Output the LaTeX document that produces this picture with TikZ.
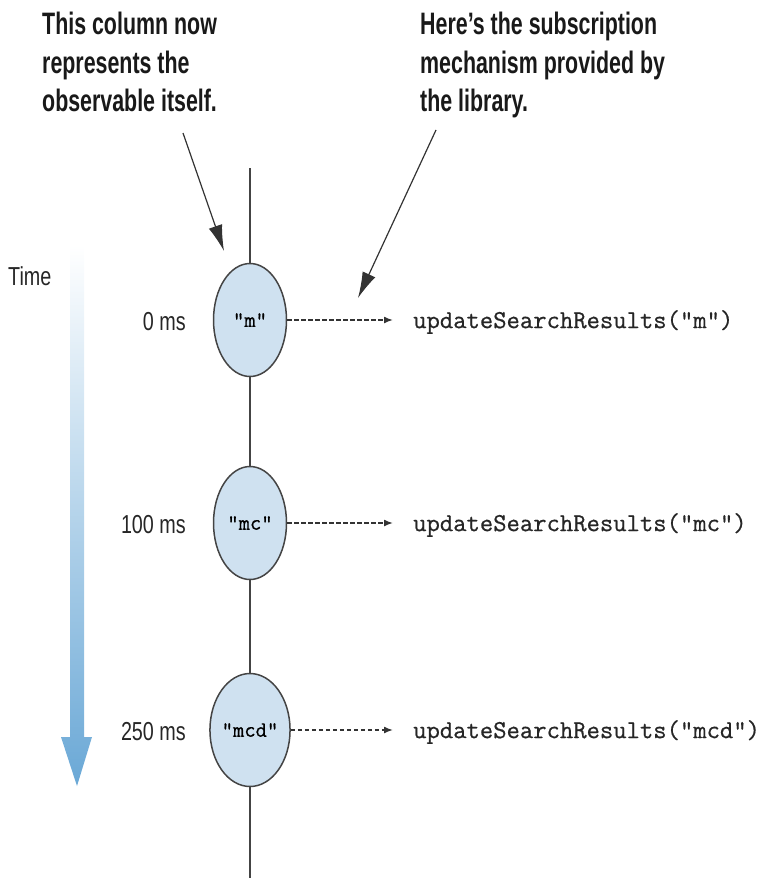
\documentclass[tikz,border=0pt]{standalone}
\usepackage{fontspec}
\setmainfont{Liberation Sans}
\setmonofont[FakeBold=0.6]{Latin Modern Mono}
\newfontfamily\annfont[FakeStretch=0.69]{Liberation Sans}
\newfontfamily\msfont[FakeStretch=0.76]{Liberation Sans}
\usetikzlibrary{arrows.meta,shapes.geometric}
\definecolor{bubblefill}{HTML}{CFE1F0}
\definecolor{bubbleline}{HTML}{444444}
\definecolor{timeblue}{HTML}{6AA8D6}
\definecolor{inkgray}{HTML}{333333}
\tikzset{
  note/.style={inner sep=0pt, align=left, anchor=north west,
    font=\annfont\bfseries\fontsize{31}{38.5}\selectfont, text=black!90},
  bubble/.style={ellipse, draw=bubbleline, line width=1.5pt, fill=bubblefill,
    minimum width=73pt, minimum height=113pt, inner sep=0pt,
    font=\ttfamily\fontsize{22}{24}\selectfont},
  mslabel/.style={inner sep=0pt, anchor=base east,
    font=\msfont\fontsize{26}{30}\selectfont, text=black!85},
  call/.style={inner sep=0pt, anchor=west,
    font=\ttfamily\fontsize{25.9}{30}\selectfont, text=black!85},
  emits/.style={draw=inkgray, line width=1.5pt, dash pattern=on 4.5pt off 2.5pt,
    -{Latex[length=9pt,width=7pt]}, shorten >=20pt},
  pointer/.style={draw=inkgray, line width=1.2pt,
    -{Latex[length=26pt,width=14pt]}},
}
\begin{document}
\begin{tikzpicture}[x=1pt, y=-1pt]
\useasboundingbox (0,0) rectangle (769,880);

% time axis: shaded arrow running downwards
\shade[top color=white, bottom color=timeblue, shading angle=0]
  (70,245) -- (84,245) -- (84,737) -- (92,737) -- (77,786)
  -- (61,737) -- (70,737) -- cycle;
\node[inner sep=0pt, anchor=base west, font=\msfont\fontsize{26}{30}\selectfont,
  text=black!85] (time) at (8,285) {Time};

% the observable's column
\coordinate (coltop) at (250,168);
\coordinate (colbot) at (250,878);
\draw[bubbleline, line width=1.5pt] (coltop) -- (colbot);

% emitted values
\node[bubble] (e0) at (250,320) {"m"};
\node[bubble] (e1) at (250,523) {"mc"};
\node[bubble] (e2) at (250,730) {"mcd"};

\node[mslabel] (t0) at (186,330) {0 ms};
\node[mslabel] (t1) at (186,533) {100 ms};
\node[mslabel] (t2) at (186,740) {250 ms};

% subscriber calls
\node[call] (c0) at (413,322) {updateSearchResults("m")};
\node[call] (c1) at (413,525) {updateSearchResults("mc")};
\node[call] (c2) at (413,732) {updateSearchResults("mcd")};

\draw[emits] (e0.east) -- (e0.east -| c0.west);
\draw[emits] (e1.east) -- (e1.east -| c1.west);
\draw[emits] (e2.east) -- (e2.east -| c2.west);

% annotations
\node[note] (n1) at (42,12) {This column now\\represents the\\observable itself.};
\node[note] (n2) at (420,12) {Here’s the subscription\\mechanism provided by\\the library.};

\coordinate (p1s) at (183,133);
\coordinate (p1e) at (224,251);
\coordinate (p2s) at (436,130);
\coordinate (p2e) at (358,298);
\draw[pointer] (p1s) -- (p1e);
\draw[pointer] (p2s) -- (p2e);
\end{tikzpicture}
\end{document}
